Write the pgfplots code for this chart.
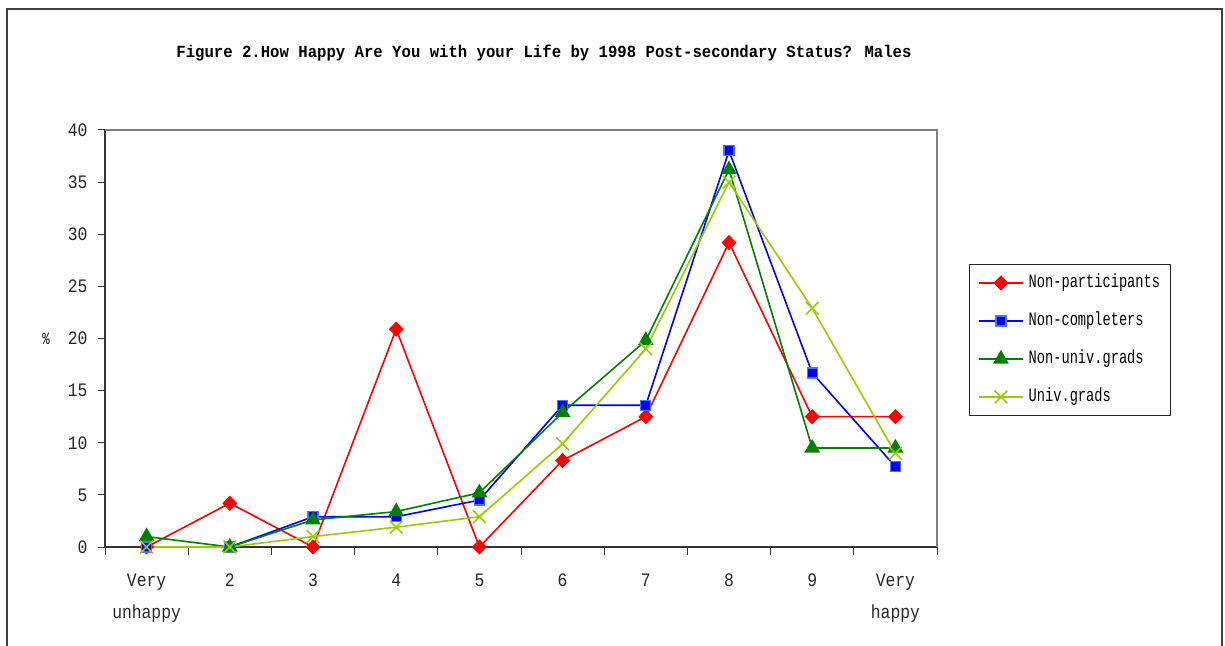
\documentclass[border=0pt]{standalone}
\usepackage{fontspec}
\usepackage{pgfplots}
\usepackage{pgfplotstable}
\pgfplotsset{compat=1.18}
\setmainfont{Liberation Mono}[FakeStretch=0.72]
\newfontfamily\titlefont{Liberation Mono}[FakeStretch=0.92]
\newfontfamily\tickfont{Liberation Mono}[FakeStretch=0.86]

\definecolor{npred}{RGB}{255,0,0}
\definecolor{ncblue}{RGB}{0,0,255}
\definecolor{ncedge}{RGB}{70,120,255}
\definecolor{nugreen}{RGB}{0,128,0}
\definecolor{ugolive}{RGB}{153,204,0}

% Happiness (1 = very unhappy ... 10 = very happy), percent of males
\pgfplotstableread{
x  np    nc    nu    ug
0  0.0   0.0   1.0   0.0
1  4.2   0.0   0.0   0.0
2  0.0   2.9   2.6   1.0
3  20.9  2.9   3.4   1.9
4  0.0   4.5   5.2   2.9
5  8.3   13.6  12.9  9.9
6  12.5  13.6  19.8  19.0
7  29.2  38.0  36.2  35.0
8  12.5  16.7  9.5   22.9
9  12.5  7.7   9.5   9.0
}\happy

\begin{document}
\begin{tikzpicture}[x=1pt,y=1pt]
\useasboundingbox (0,0) rectangle (1225,645);
% outer chart frame
\draw[line width=1.3pt, black!75] (7,-10) |- (1222,636) -- (1222,-10);
\node[font=\titlefont\bfseries\fontsize{17}{20}\selectfont] at (544,592)
  {Figure 2.How Happy Are You with your Life by 1998 Post-secondary Status? Males};
\begin{axis}[
  at={(105pt,98pt)}, anchor=south west,
  scale only axis, width=832pt, height=417pt,
  xmin=-0.5, xmax=9.5, ymin=0, ymax=40,
  axis lines=left, axis line style={-, black!80, line width=1.2pt},
  clip=false,
  xtick={0,...,9},
  xticklabels={Very\\unhappy,2,3,4,5,6,7,8,9,Very\\happy},
  minor xtick={-0.5,0.5,...,9.5},
  major x tick style={draw=none},
  ytick={0,5,...,40},
  tick align=outside,
  major tick length=7pt, minor tick length=8pt,
  tick style={black!80, line width=1pt},
  every tick label/.append style={font=\tickfont\fontsize{19}{32}\selectfont, black!85},
  xticklabel style={align=center, anchor=north, yshift=-16pt},
  yticklabel style={xshift=-7pt},
  /pgf/number format/assume math mode=true,
  ylabel={\%},
  ylabel style={rotate=-90, at={(axis description cs:-0.071,0.5)}, anchor=center,
    font=\fontsize{17}{20}\selectfont},
  legend style={at={(1.0385,0.679)}, anchor=north west,
    draw=black!85, line width=1.2pt, font=\fontsize{19}{22}\selectfont,
    row sep=18pt, inner sep=8.5pt,
    nodes={text height=13pt, text depth=3pt}},
  legend cell align=left,
  legend image code/.code={%
    \draw[mark repeat=2,mark phase=2] plot coordinates {(0pt,0pt) (22pt,0pt) (44pt,0pt)};
    \path (47pt,0pt);},
]
\addplot[npred, line width=1.6pt, mark=diamond*, mark size=6.5pt, mark options={xscale=1.3, solid}] table[x=x,y=np]{\happy};
\addlegendentry{Non-participants}
\addplot[ncblue, line width=1.6pt, mark=square*, mark size=5pt, mark options={fill=ncblue, draw=ncedge, line width=1.2pt}] table[x=x,y=nc]{\happy};
\addlegendentry{Non-completers}
\addplot[nugreen, line width=1.6pt, mark=triangle*, mark size=7.5pt] table[x=x,y=nu]{\happy};
\addlegendentry{Non-univ.grads}
\addplot[ugolive, line width=1.6pt, mark=x, mark size=9pt] table[x=x,y=ug]{\happy};
\addlegendentry{Univ.grads}
\draw[black!50, line width=1.2pt] (rel axis cs:0,1) -- (rel axis cs:1,1) -- (rel axis cs:1,0);
\end{axis}
\end{tikzpicture}
\end{document}
